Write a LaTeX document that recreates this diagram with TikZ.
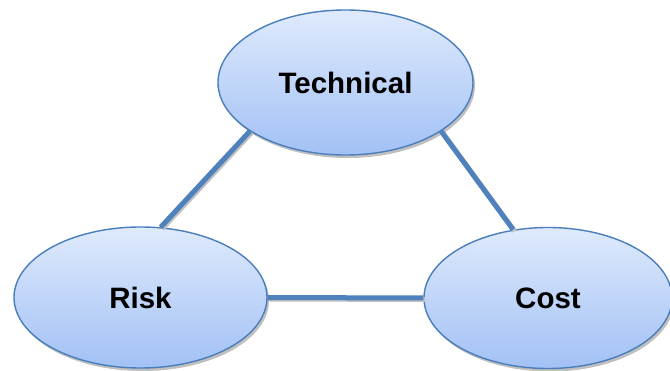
\documentclass[tikz,border=0pt]{standalone}
\usepackage{fontspec}
\setmainfont{Liberation Sans}
\usetikzlibrary{shapes.geometric,shadows}
\definecolor{linkblue}{HTML}{4F81BD}
\definecolor{ovaltop}{HTML}{DFEAFC}
\definecolor{ovalbottom}{HTML}{A2C1F5}
\definecolor{ovalline}{HTML}{4A7EBB}
\tikzset{
  oval/.style={ellipse, inner sep=0pt, draw=ovalline, line width=1.4pt,
    top color=ovaltop, bottom color=ovalbottom,
    font=\fontsize{29.5}{31}\selectfont\bfseries,
    drop shadow={shadow xshift=2pt, shadow yshift=-3pt, opacity=0.25, fill=black}},
  link/.style={draw=linkblue, line width=5pt},
  linkshadow/.style={draw=black!25, line width=5pt, transform canvas={xshift=1.5pt, yshift=-1.5pt}}
}
\begin{document}
\begin{tikzpicture}[x=1pt, y=-1pt]
  \useasboundingbox (0,0) rectangle (670,371);
  % the three ovals
  \node[oval, minimum width=255pt, minimum height=145pt] (tech) at (345.5,82.5) {Technical};
  \node[oval, minimum width=253pt, minimum height=141pt] (risk) at (140.5,297.5) {Risk};
  \node[oval, minimum width=248pt, minimum height=141pt] (cost) at (548,298) {Cost};
  % connecting bars, each with a faint shadow
  \coordinate (t1) at (tech.207);
  \coordinate (t2) at (tech.333);
  \coordinate (r1) at (risk.74);
  \coordinate (r2) at (risk.0);
  \coordinate (c1) at (cost.117);
  \coordinate (c2) at (cost.180);
  \foreach \a/\b in {t1/r1, t2/c1, r2/c2} {
    \draw[linkshadow] (\a) -- (\b);
    \draw[link] (\a) -- (\b);
  }
\end{tikzpicture}
\end{document}
